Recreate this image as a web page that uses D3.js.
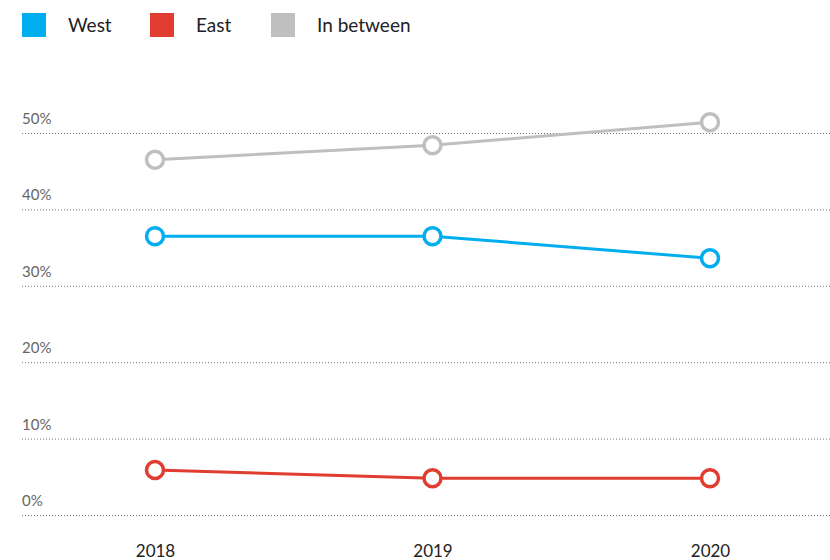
<!DOCTYPE html>
<html><head><meta charset="utf-8">
<script src="https://cdn.jsdelivr.net/npm/d3@7"></script>
<style>body{margin:0;background:#fff;font-family:Lato,"Open Sans",sans-serif;}</style>
</head><body>
<svg id="c" width="830" height="560"></svg>
<script>
const years = ["2018","2019","2020"];
const seriesNames = ["West","East","In between"];
const seriesColors = ["#00AEEF","#E03C2F","#BFBFBF"];
const west = [36.5, 36.5, 33.6];
const east = [5.9, 4.8, 4.8];
const between = [46.5, 48.4, 51.4];
const yTicks = [0,10,20,30,40,50];

const svg = d3.select("#c");
const x = d3.scalePoint().domain(years).range([155,710]);
const y = d3.scaleLinear().domain([0,50]).range([515,133]);

// grid
const grid = svg.append("g");
yTicks.forEach(t=>{
  grid.append("line").attr("x1",22).attr("x2",830).attr("y1",y(t)+0.5).attr("y2",y(t)+0.5)
    .attr("stroke","#777").attr("stroke-width",1).attr("stroke-dasharray","1,2");
  grid.append("text").attr("x",22).attr("y",y(t)-9).text(t+"%")
    .attr("font-size",15).attr("fill","#666");
});

// x axis labels
const xa = svg.append("g").attr("transform","translate(0,557)")
  .call(d3.axisBottom(x).tickSize(0).tickPadding(0));
xa.select(".domain").remove();
xa.selectAll("text").attr("dy",0).attr("y",0).attr("font-size",17).attr("fill","#222").attr("font-family","Lato,'Open Sans',sans-serif");

const all = [west, east, between];
const line = d3.line().x((d,i)=>x(years[i])).y(d=>y(d));
// draw order: between, west, east
[2,0,1].forEach(si=>{
  const g = svg.append("g");
  g.append("path").attr("d",line(all[si])).attr("fill","none")
    .attr("stroke",seriesColors[si]).attr("stroke-width",3);
  g.selectAll("circle").data(all[si]).join("circle")
    .attr("cx",(d,i)=>x(years[i])).attr("cy",d=>y(d)).attr("r",8.5)
    .attr("fill","#fff").attr("stroke",seriesColors[si]).attr("stroke-width",3.5);
});

// legend
const legX = [22,150,271];
seriesNames.forEach((n,i)=>{
  svg.append("rect").attr("x",legX[i]).attr("y",13).attr("width",24).attr("height",24).attr("fill",seriesColors[i]);
  svg.append("text").attr("x",legX[i]+46).attr("y",32).text(n).attr("font-size",19).attr("fill","#222");
});
</script>
</body></html>
